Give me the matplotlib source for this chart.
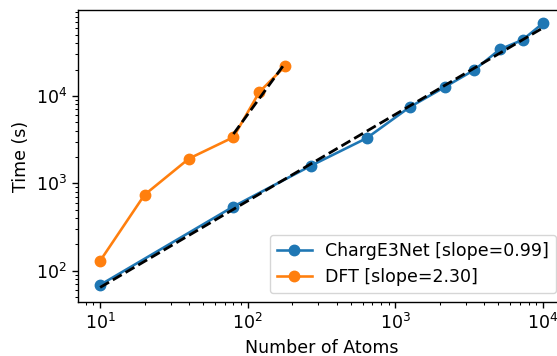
import numpy as np
import matplotlib
matplotlib.use("Agg")
import matplotlib.pyplot as plt

# 数据
charge_atoms = [10, 80, 270, 640, 1250, 2160, 3430, 5120, 7290, 10000]
charge_time = [69, 543, 1600, 3290, 7430, 12600, 19800, 34100, 43700, 67600]
dft_atoms = [10, 20, 40, 80, 120, 180]
dft_time = [130, 740, 1920, 3370, 11100, 22000]
dft_fit_from = 3  # DFT 拟合只用最后三个点

charge_label = "ChargE3Net [slope=0.99]"
dft_label = "DFT [slope=2.30]"

# 原图大约是 125 dpi 渲染后缩小的，所以整体放大 1.25 倍
s = 1.25
plt.rcParams.update({
    "font.size": 10 * s,
    "axes.linewidth": 0.8 * s,
    "xtick.major.size": 3.5 * s,
    "ytick.major.size": 3.5 * s,
    "xtick.minor.size": 2 * s,
    "ytick.minor.size": 2 * s,
    "xtick.major.width": 0.8 * s,
    "ytick.major.width": 0.8 * s,
    "xtick.minor.width": 0.6 * s,
    "ytick.minor.width": 0.6 * s,
})


def loglog_fit(x, y):
    # 对数空间线性拟合
    k, b = np.polyfit(np.log10(x), np.log10(y), 1)
    xs = np.array([min(x), max(x)], dtype=float)
    return xs, 10 ** (k * np.log10(xs) + b)


fig = plt.figure(figsize=(5.57, 3.56), dpi=100)
ax = fig.add_axes([78 / 557, 54 / 356, 487 / 557, 292 / 356])

ax.plot(charge_atoms, charge_time, "-o", color="C0", lw=1.5 * s, ms=6 * s, label=charge_label)
ax.plot(dft_atoms, dft_time, "-o", color="C1", lw=1.5 * s, ms=6 * s, label=dft_label)

fx, fy = loglog_fit(charge_atoms, charge_time)
ax.plot(fx, fy, "k--", lw=1.6 * s)
fx, fy = loglog_fit(dft_atoms[dft_fit_from:], dft_time[dft_fit_from:])
ax.plot(fx, fy, "k--", lw=1.6 * s)

ax.set_xscale("log")
ax.set_yscale("log")
ax.set_xlim(7.08, 14125)
ax.set_ylim(44, 96000)
ax.set_xlabel("Number of Atoms")
ax.set_ylabel("Time (s)")
ax.legend(loc="lower right")

fig.savefig("out.png", dpi=100)
